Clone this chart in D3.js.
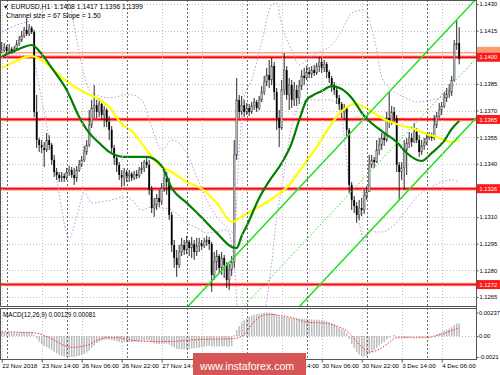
<!DOCTYPE html>
<html>
<head>
<meta charset="utf-8">
<script src="https://cdn.jsdelivr.net/npm/d3@7"></script>
<style>
  body { margin: 0; background: #fff; }
  text { font-family: "Liberation Sans", Arial, sans-serif; }
</style>
</head>
<body>
<div id="chart"></div>
<script>
// ---- data (EURUSD H1, 22 Nov 22:00 .. 4 Dec 13:00) ----
var firstOpen = 1.14030;

var closes = [
  1.14041,1.14058,1.14035,1.14047,1.14030,1.14047,1.14075,1.14097,1.14120,1.14154,
  1.14131,1.14165,1.14142,1.13692,1.13534,1.13506,1.13489,1.13478,1.13534,1.13506,
  1.13422,1.13354,1.13337,1.13320,1.13332,1.13320,1.13354,1.13365,1.13337,1.13320,
  1.13365,1.13394,1.13422,1.13467,1.13506,1.13619,1.13714,1.13731,1.13692,1.13737,
  1.13675,1.13703,1.13636,1.13591,1.13489,1.13433,1.13394,1.13337,1.13320,1.13354,
  1.13332,1.13343,1.13320,1.13343,1.13332,1.13365,1.13377,1.13410,1.13394,1.13253,
  1.13151,1.13168,1.13208,1.13185,1.13264,1.13320,1.13298,1.13112,1.12943,1.12870,
  1.12831,1.12904,1.12943,1.12915,1.12960,1.12926,1.12949,1.12904,1.12938,1.12954,
  1.12938,1.12960,1.12971,1.12949,1.12774,1.12847,1.12881,1.12814,1.12870,1.12831,
  1.12746,1.12802,1.12847,1.13450,1.13760,1.13692,1.13731,1.13692,1.13714,1.13692,
  1.13726,1.13748,1.13714,1.13760,1.13805,1.13861,1.13900,1.13872,1.13951,1.13805,
  1.13658,1.13602,1.13816,1.13928,1.13788,1.13844,1.13760,1.13816,1.13771,1.13838,
  1.13895,1.13883,1.13917,1.13906,1.13928,1.13912,1.13951,1.13973,1.13940,1.13962,
  1.13917,1.13883,1.13844,1.13816,1.13771,1.13737,1.13692,1.13714,1.13591,1.13281,
  1.13197,1.13163,1.13112,1.13151,1.13140,1.13219,1.13242,1.13394,1.13422,1.13410,
  1.13478,1.13506,1.13546,1.13534,1.13658,1.13636,1.13692,1.13658,1.13394,1.13354,
  1.13377,1.13478,1.13517,1.13546,1.13523,1.13579,1.13534,1.13467,1.13501,1.13517,
  1.13546,1.13557,1.13546,1.13619,1.13669,1.13703,1.13726,1.13771,1.13793,1.13805,
  1.13872,1.14069,1.14080,1.13990
];

var highs = [
  1.14086,1.14080,1.14069,1.14075,1.14058,1.14064,1.14097,1.14120,1.14148,1.14171,
  1.14221,1.14187,1.14176,1.14154,1.13788,1.13546,1.13534,1.13523,1.13574,1.13562,
  1.13517,1.13450,1.13377,1.13354,1.13354,1.13348,1.13377,1.13388,1.13382,1.13377,
  1.13388,1.13422,1.13444,1.13501,1.13534,1.13703,1.13760,1.13844,1.13760,1.13771,
  1.13743,1.13726,1.13714,1.13669,1.13613,1.13506,1.13450,1.13410,1.13365,1.13377,
  1.13365,1.13365,1.13354,1.13360,1.13365,1.13382,1.13410,1.13422,1.13439,1.13422,
  1.13275,1.13208,1.13230,1.13253,1.13292,1.13377,1.13354,1.13320,1.13129,1.12971,
  1.12915,1.12943,1.12983,1.12971,1.12994,1.12971,1.12988,1.12971,1.12983,1.12983,
  1.12971,1.12983,1.12994,1.12988,1.12960,1.12904,1.12915,1.12892,1.12904,1.12887,
  1.12847,1.12836,1.12881,1.13534,1.13883,1.13788,1.13782,1.13760,1.13743,1.13737,
  1.13748,1.13771,1.13760,1.13782,1.13838,1.13895,1.13940,1.13985,1.13996,1.13973,
  1.13827,1.13703,1.13872,1.14024,1.13951,1.13883,1.13872,1.13861,1.13844,1.13872,
  1.13928,1.13940,1.13951,1.13945,1.13951,1.13957,1.13968,1.14002,1.13996,1.13985,
  1.13973,1.13928,1.13895,1.13861,1.13827,1.13788,1.13748,1.13737,1.13714,1.13602,
  1.13298,1.13219,1.13185,1.13197,1.13208,1.13253,1.13275,1.13450,1.13450,1.13439,
  1.13534,1.13546,1.13574,1.13579,1.13692,1.13805,1.13726,1.13720,1.13675,1.13410,
  1.13410,1.13534,1.13546,1.13579,1.13574,1.13630,1.13602,1.13562,1.13534,1.13546,
  1.13568,1.13579,1.13574,1.13675,1.13692,1.13743,1.13748,1.13805,1.13827,1.13850,
  1.13895,1.14097,1.14210,1.14170
];

var lows = [
  1.14024,1.14030,1.14013,1.14024,1.14018,1.14024,1.14041,1.14064,1.14086,1.14109,
  1.14120,1.14120,1.14131,1.13664,1.13489,1.13467,1.13461,1.13382,1.13467,1.13478,
  1.13394,1.13326,1.13309,1.13298,1.13298,1.13298,1.13309,1.13332,1.13320,1.13281,
  1.13298,1.13354,1.13382,1.13410,1.13450,1.13495,1.13602,1.13658,1.13658,1.13664,
  1.13647,1.13607,1.13607,1.13534,1.13467,1.13394,1.13354,1.13309,1.13270,1.13275,
  1.13298,1.13298,1.13303,1.13309,1.13315,1.13320,1.13343,1.13354,1.13377,1.13225,
  1.13123,1.13101,1.13140,1.13157,1.13168,1.13242,1.13225,1.13084,1.12904,1.12814,
  1.12763,1.12814,1.12881,1.12887,1.12892,1.12881,1.12870,1.12859,1.12881,1.12904,
  1.12915,1.12926,1.12938,1.12915,1.12679,1.12746,1.12802,1.12780,1.12774,1.12757,
  1.12701,1.12690,1.12769,1.12814,1.13422,1.13658,1.13675,1.13664,1.13675,1.13669,
  1.13681,1.13703,1.13692,1.13703,1.13748,1.13788,1.13838,1.13827,1.13844,1.13760,
  1.13591,1.13495,1.13591,1.13788,1.13760,1.13703,1.13714,1.13726,1.13726,1.13737,
  1.13816,1.13844,1.13872,1.13883,1.13883,1.13895,1.13900,1.13917,1.13912,1.13917,
  1.13883,1.13855,1.13805,1.13788,1.13737,1.13703,1.13658,1.13647,1.13557,1.13236,
  1.13140,1.13123,1.13067,1.13084,1.13106,1.13118,1.13197,1.13242,1.13377,1.13377,
  1.13405,1.13450,1.13478,1.13501,1.13523,1.13602,1.13619,1.13636,1.13354,1.13197,
  1.13309,1.13253,1.13337,1.13489,1.13495,1.13517,1.13517,1.13439,1.13450,1.13478,
  1.13506,1.13534,1.13529,1.13534,1.13602,1.13658,1.13675,1.13714,1.13748,1.13771,
  1.13782,1.13861,1.14041,1.13960
];

// moving averages (green, yellow), sampled at bar numbers
var greenBars = [0,3,7,12,16,20,26,31,35,39,43,49,52,58,64,68,74,79,86,92,94,96,98,103,107,112,116,119,122,124,128,132,136,140,145,147,153,158,162,168,172,177,180,183];
var greenMA = [1.14002,1.14024,1.14047,1.14069,1.14018,1.13940,1.13816,1.13664,1.13574,1.13517,1.13467,1.13439,1.13439,1.13439,1.13388,1.13264,1.13180,1.13112,1.13011,1.12932,1.12926,1.12994,1.13050,1.13208,1.13303,1.13405,1.13517,1.13647,1.13760,1.13782,1.13810,1.13838,1.13821,1.13771,1.13669,1.13641,1.13574,1.13523,1.13461,1.13416,1.13461,1.13529,1.13596,1.13641];

var yellowBars = [0,5,10,12,16,22,27,32,38,43,48,52,58,63,68,74,80,86,92,97,102,108,115,120,126,131,136,142,147,152,158,164,169,174,180,183];
var yellowMA = [1.13940,1.13973,1.14002,1.14007,1.13985,1.13912,1.13855,1.13810,1.13771,1.13720,1.13624,1.13585,1.13478,1.13394,1.13354,1.13298,1.13259,1.13180,1.13073,1.13112,1.13151,1.13202,1.13281,1.13377,1.13495,1.13607,1.13697,1.13737,1.13703,1.13658,1.13624,1.13602,1.13574,1.13551,1.13523,1.13534];

// envelope bands (purple dotted)
var bandBars = [0,6,12,16,22,27,30,33,36,44,49,52,56,60,64,68,74,78,82,86,90,93,95,97,100,104,108,110,112,116,119,123,127,131,135,140,142,145,147,150,152,156,161,166,172,176,180,183];
var bandUpper = [1.14142,1.14182,1.14210,1.14255,1.14289,1.14294,1.14097,1.13900,1.13799,1.13771,1.13788,1.13788,1.13760,1.13607,1.13478,1.13534,1.13461,1.13326,1.13197,1.13101,1.13044,1.13011,1.13478,1.13776,1.13872,1.14086,1.14294,1.14306,1.14182,1.14041,1.13957,1.13996,1.14030,1.14058,1.14125,1.14249,1.14260,1.14266,1.14210,1.14041,1.13889,1.13816,1.13776,1.13748,1.13760,1.13776,1.13833,1.13855];
var bandLower = [1.14002,1.14013,1.14002,1.13760,1.13309,1.12983,1.13101,1.13236,1.13180,1.13197,1.13213,1.13197,1.13140,1.13157,1.13151,1.13140,1.13067,1.13039,1.13011,1.13016,1.13028,1.12842,1.12465,1.12420,1.12420,1.12500,1.12842,1.13101,1.13270,1.13607,1.13731,1.13760,1.13760,1.13760,1.13731,1.13197,1.13140,1.12960,1.13028,1.13016,1.13016,1.13044,1.13123,1.13213,1.13270,1.13298,1.13309,1.13298];

// regression channel: size 67 pips, slope 1.50 pips/bar
var channelBars = [117, 183];
var channelMid = [1.12900, 1.13891];
var channelSize = 0.0067;

// horizontal levels
var levelValues = [1.1400, 1.1365, 1.1326, 1.1272];
var askLine = 1.14025;

// price axis
var priceTicks = [1.1430,1.1415,1.1400,1.1385,1.1370,1.1355,1.1340,1.1325,1.1310,1.1295,1.1280,1.1265];

// time axis
var timeTickBars = [0,16,32,48,64,80,96,112,128,144,160,176];
var timeLabels = ["22 Nov 2018","23 Nov 14:00","26 Nov 06:00","26 Nov 22:00","27 Nov 14:00","28 Nov 06:00",
                  "28 Nov 22:00","29 Nov 14:00","30 Nov 06:00","30 Nov 22:00","3 Dec 14:00","4 Dec 06:00"];
var dayStartBars = [2,26,50,74,98,122,146,170];

// MACD(12,26,9)
var macdHist = [
  0.00040,0.00040,0.00038,0.00038,0.00036,0.00036,0.00036,0.00038,0.00040,0.00042,
  0.00042,0.00044,0.00044,0.00010,-0.00025,-0.00055,-0.00080,-0.00100,-0.00112,-0.00125,
  -0.00140,-0.00160,-0.00175,-0.00188,-0.00198,-0.00205,-0.00208,-0.00210,-0.00210,-0.00210,
  -0.00205,-0.00198,-0.00190,-0.00178,-0.00165,-0.00145,-0.00120,-0.00098,-0.00070,-0.00055,
  -0.00045,-0.00038,-0.00035,-0.00035,-0.00040,-0.00046,-0.00052,-0.00058,-0.00062,-0.00062,
  -0.00062,-0.00060,-0.00060,-0.00058,-0.00056,-0.00053,-0.00050,-0.00046,-0.00044,-0.00050,
  -0.00062,-0.00072,-0.00078,-0.00082,-0.00080,-0.00075,-0.00074,-0.00085,-0.00100,-0.00115,
  -0.00128,-0.00132,-0.00133,-0.00133,-0.00130,-0.00128,-0.00125,-0.00123,-0.00120,-0.00116,
  -0.00112,-0.00107,-0.00102,-0.00098,-0.00102,-0.00104,-0.00103,-0.00104,-0.00102,-0.00102,
  -0.00106,-0.00106,-0.00102,0.00010,0.00060,0.00100,0.00135,0.00160,0.00180,0.00195,
  0.00205,0.00215,0.00220,0.00225,0.00230,0.00234,0.00237,0.00236,0.00235,0.00228,
  0.00215,0.00200,0.00195,0.00198,0.00190,0.00185,0.00180,0.00178,0.00175,0.00175,
  0.00176,0.00175,0.00172,0.00170,0.00168,0.00165,0.00164,0.00163,0.00160,0.00156,
  0.00150,0.00140,0.00128,0.00115,0.00100,0.00085,0.00068,0.00055,0.00030,-0.00030,
  -0.00080,-0.00120,-0.00160,-0.00185,-0.00200,-0.00205,-0.00200,-0.00180,-0.00160,-0.00140,
  -0.00118,-0.00095,-0.00075,-0.00058,-0.00035,-0.00015,0.00005,0.00012,-0.00005,-0.00015,
  -0.00020,-0.00018,-0.00015,-0.00012,-0.00010,-0.00006,-0.00006,-0.00010,-0.00010,-0.00010,
  -0.00008,-0.00006,-0.00004,0.00004,0.00015,0.00028,0.00040,0.00055,0.00065,0.00075,
  0.00088,0.00110,0.00125,0.00129
];
var signalBars = [0,13,19,26,28,34,39,42,46,53,59,66,79,93,97,99,103,107,111,117,122,129,135,139,143,147,151,154,158,162,170,175,183];
var signalLine = [0.00043,0.00033,-0.00016,-0.00103,-0.00113,-0.00093,-0.00035,-0.00016,-0.00016,-0.00045,-0.00054,-0.00054,-0.00035,-0.00025,0.00014,0.00082,0.00189,0.00218,0.00208,0.00179,0.00140,0.00130,0.00091,0.00033,-0.00084,-0.00161,-0.00132,-0.00084,-0.00016,-0.00016,-0.00016,0.00014,0.00082];
var macdTicks = [0.00237, 0, -0.0021];
var macdTickLabels = ["0.00237", "0.00", "-0.0021"];

// ---- layout ----
var svgWidth = 500;
var svgHeight = 375;
var plotRight = 476;
var mainBottom = 306;
var macdTop = 308;
var macdBottom = 359;
var axisFont = "5.8px";

var svg = d3.select("#chart")
  .append("svg")
  .attr("width", svgWidth)
  .attr("height", svgHeight)
  .style("display", "block");

svg.append("rect").attr("width", svgWidth).attr("height", svgHeight).attr("fill", "#fff");

var xScale = d3.scaleLinear().domain([0, closes.length - 1]).range([1.7, 459.2]);
var yScale = d3.scaleLinear().domain([1.1265, 1.1430]).range([297, 4]);
var macdScale = d3.scaleLinear().domain([-0.0021, 0.00237]).range([357, 312.5]);

var defs = svg.append("defs");
defs.append("clipPath").attr("id", "clipMain")
  .append("rect").attr("x", 0).attr("y", 0).attr("width", plotRight).attr("height", mainBottom);
defs.append("clipPath").attr("id", "clipMacd")
  .append("rect").attr("x", 0).attr("y", macdTop).attr("width", plotRight).attr("height", macdBottom - macdTop);

var mainGroup = svg.append("g").attr("clip-path", "url(#clipMain)");
var macdGroup = svg.append("g").attr("clip-path", "url(#clipMacd)");

// grid
mainGroup.selectAll(".hgrid")
  .data(priceTicks)
  .enter()
  .append("line")
  .attr("x1", 0).attr("x2", plotRight)
  .attr("y1", d => Math.round(yScale(d)) + 0.5)
  .attr("y2", d => Math.round(yScale(d)) + 0.5)
  .attr("stroke", "#c4c4c4")
  .attr("stroke-dasharray", "1,2");

svg.selectAll(".vgrid")
  .data(timeTickBars)
  .enter()
  .append("line")
  .attr("x1", d => Math.round(xScale(d)) + 0.5)
  .attr("x2", d => Math.round(xScale(d)) + 0.5)
  .attr("y1", 0).attr("y2", macdBottom)
  .attr("stroke", "#c4c4c4")
  .attr("stroke-dasharray", "1,2");

macdGroup.append("line")
  .attr("x1", 0).attr("x2", plotRight)
  .attr("y1", Math.round(macdScale(0)) + 0.5).attr("y2", Math.round(macdScale(0)) + 0.5)
  .attr("stroke", "#c4c4c4")
  .attr("stroke-dasharray", "1,2");

// day separators
svg.selectAll(".daysep")
  .data(dayStartBars)
  .enter()
  .append("line")
  .attr("x1", d => Math.round(xScale(d)) + 0.5)
  .attr("x2", d => Math.round(xScale(d)) + 0.5)
  .attr("y1", 0).attr("y2", macdBottom)
  .attr("stroke", "#6a6a6a")
  .attr("stroke-dasharray", "2,2");

// horizontal levels
mainGroup.append("line")
  .attr("x1", 0).attr("x2", plotRight)
  .attr("y1", yScale(askLine)).attr("y2", yScale(askLine))
  .attr("stroke", "#ffa585").attr("stroke-width", 1.5);

mainGroup.selectAll(".levelGlow")
  .data(levelValues)
  .enter()
  .append("line")
  .attr("x1", 0).attr("x2", plotRight)
  .attr("y1", d => yScale(d)).attr("y2", d => yScale(d))
  .attr("stroke", "#ff9090").attr("stroke-width", 3.5);

mainGroup.selectAll(".level")
  .data(levelValues)
  .enter()
  .append("line")
  .attr("x1", 0).attr("x2", plotRight)
  .attr("y1", d => yScale(d)).attr("y2", d => yScale(d))
  .attr("stroke", "#ff0000").attr("stroke-width", 1.6);

// envelopes
function sampledLine(bars, values, scale) {
  return d3.line()
    .x((d, i) => xScale(bars[i]))
    .y(d => scale(d))
    .curve(d3.curveMonotoneX)(values);
}

[bandUpper, bandLower].forEach(function(band) {
  mainGroup.append("path")
    .attr("d", sampledLine(bandBars, band, yScale))
    .attr("fill", "none")
    .attr("stroke", "#c890e8")
    .attr("stroke-width", 1)
    .attr("stroke-dasharray", "1.5,2");
});

// candles
var candles = closes.map(function(c, i) {
  return { i: i, o: i ? closes[i - 1] : firstOpen, h: highs[i], l: lows[i], c: c };
});

mainGroup.selectAll(".wick")
  .data(candles)
  .enter()
  .append("line")
  .attr("x1", d => xScale(d.i)).attr("x2", d => xScale(d.i))
  .attr("y1", d => yScale(Math.max(d.h, d.o, d.c)))
  .attr("y2", d => yScale(Math.min(d.l, d.o, d.c)))
  .attr("stroke", "#111")
  .attr("stroke-width", 0.9);

mainGroup.selectAll(".body")
  .data(candles)
  .enter()
  .append("rect")
  .attr("x", d => xScale(d.i) - 0.9)
  .attr("width", 1.8)
  .attr("y", d => yScale(Math.max(d.o, d.c)))
  .attr("height", d => Math.max(0.8, Math.abs(yScale(d.o) - yScale(d.c))))
  .attr("fill", d => d.c >= d.o ? "#b4b4b4" : "#000")
  .attr("stroke", d => d.c >= d.o ? "#404040" : "none")
  .attr("stroke-width", 0.4);

// moving averages
mainGroup.append("path")
  .attr("d", sampledLine(yellowBars, yellowMA, yScale))
  .attr("fill", "none")
  .attr("stroke", "#ffff00")
  .attr("stroke-width", 2.2);

mainGroup.append("path")
  .attr("d", sampledLine(greenBars, greenMA, yScale))
  .attr("fill", "none")
  .attr("stroke", "#008000")
  .attr("stroke-width", 2.2);

// regression channel
var channelScale = d3.scaleLinear().domain(channelBars).range(channelMid);
var channelEnds = [0, 190];
[channelSize / 2, 0, -channelSize / 2].forEach(function(offset) {
  mainGroup.append("line")
    .attr("x1", xScale(channelEnds[0]))
    .attr("x2", xScale(channelEnds[1]))
    .attr("y1", yScale(channelScale(channelEnds[0]) + offset))
    .attr("y2", yScale(channelScale(channelEnds[1]) + offset))
    .attr("stroke", "#22e022")
    .attr("stroke-width", offset === 0 ? 1 : 1.5)
    .attr("stroke-dasharray", offset === 0 ? "1.5,2" : null);
});

// MACD histogram and signal
macdGroup.selectAll(".hist")
  .data(macdHist)
  .enter()
  .append("rect")
  .attr("x", (d, i) => xScale(i) - 0.75)
  .attr("width", 1.5)
  .attr("y", d => Math.min(macdScale(d), macdScale(0)))
  .attr("height", d => Math.abs(macdScale(d) - macdScale(0)))
  .attr("fill", "#bdbdbd");

macdGroup.append("path")
  .attr("d", sampledLine(signalBars, signalLine, macdScale))
  .attr("fill", "none")
  .attr("stroke", "#ff3030")
  .attr("stroke-width", 1)
  .attr("stroke-dasharray", "1.5,1.5");

// panel borders
svg.append("rect")
  .attr("x", 0.5).attr("y", 0.5)
  .attr("width", plotRight).attr("height", mainBottom)
  .attr("fill", "none").attr("stroke", "#555");
svg.append("rect")
  .attr("x", 0.5).attr("y", macdTop + 0.5)
  .attr("width", plotRight).attr("height", macdBottom - macdTop)
  .attr("fill", "none").attr("stroke", "#555");

// price axis
var priceAxis = d3.axisRight(yScale)
  .tickValues(priceTicks)
  .tickSize(2)
  .tickPadding(1)
  .tickFormat(d => levelValues.some(l => Math.abs(yScale(l) - yScale(d)) < 7) ? "" : d.toFixed(4));

var priceAxisGroup = svg.append("g")
  .attr("transform", `translate(${plotRight + 0.5}, 0)`)
  .call(priceAxis);
priceAxisGroup.select(".domain").remove();
priceAxisGroup.selectAll("text").attr("font-size", axisFont).attr("fill", "#000")
  .attr("font-family", "Liberation Sans, Arial, sans-serif");
priceAxisGroup.selectAll("line").attr("stroke", "#555");

// level tags on the price axis
svg.append("rect")
  .attr("x", plotRight + 1).attr("y", yScale(askLine) - 6)
  .attr("width", svgWidth - plotRight - 1).attr("height", 9)
  .attr("fill", "#ff9a70");

svg.selectAll(".levelTag")
  .data(levelValues)
  .enter()
  .append("rect")
  .attr("x", plotRight + 1)
  .attr("y", d => yScale(d) - 4.5)
  .attr("width", svgWidth - plotRight - 1)
  .attr("height", 9)
  .attr("fill", "#ff1a1a");

svg.selectAll(".levelText")
  .data(levelValues)
  .enter()
  .append("text")
  .attr("x", plotRight + 3.5)
  .attr("y", d => yScale(d) + 2.2)
  .attr("font-size", axisFont)
  .attr("fill", "#fff")
  .text(d => d.toFixed(4));

// macd axis
var macdAxis = d3.axisRight(macdScale)
  .tickValues(macdTicks)
  .tickSize(2)
  .tickPadding(0.5)
  .tickFormat((d, i) => macdTickLabels[i]);

var macdAxisGroup = svg.append("g")
  .attr("transform", `translate(${plotRight + 0.5}, 0)`)
  .call(macdAxis);
macdAxisGroup.select(".domain").remove();
macdAxisGroup.selectAll("text").attr("font-size", axisFont).attr("fill", "#000")
  .attr("font-family", "Liberation Sans, Arial, sans-serif");
macdAxisGroup.selectAll("line").attr("stroke", "#555");

svg.append("line")
  .attr("x1", plotRight + 0.5).attr("x2", plotRight + 0.5)
  .attr("y1", 0).attr("y2", macdBottom + 0.5)
  .attr("stroke", "#555");

// time axis
var timeAxis = d3.axisBottom(xScale)
  .tickValues(timeTickBars)
  .tickSize(3)
  .tickPadding(1.5)
  .tickFormat((d, i) => timeLabels[i]);

var timeAxisGroup = svg.append("g")
  .attr("transform", `translate(0, ${macdBottom + 0.5})`)
  .call(timeAxis);
timeAxisGroup.select(".domain").remove();
timeAxisGroup.selectAll("line").attr("stroke", "#555");
timeAxisGroup.selectAll("text")
  .attr("font-size", "6.2px")
  .attr("fill", "#000")
  .attr("text-anchor", "start")
  .attr("font-family", "Liberation Sans, Arial, sans-serif");

// headers
svg.append("text").attr("x", 3).attr("y", 9).attr("font-size", "5.5px").text("\u25BC");
svg.append("text")
  .attr("x", 11).attr("y", 9)
  .attr("font-size", "6.8px")
  .attr("fill", "#000")
  .attr("xml:space", "preserve")
  .text("EURUSD,H1  1.1408 1.1417 1.1396 1.1399");
svg.append("text")
  .attr("x", 6).attr("y", 18)
  .attr("font-size", "6.8px")
  .attr("fill", "#000")
  .text("Channel size = 67 Slope = 1.50");
svg.append("text")
  .attr("x", 3).attr("y", 317)
  .attr("font-size", "6.3px")
  .attr("fill", "#000")
  .text("MACD(12,26,9) 0.00129 0.00081");

// watermark
svg.append("rect")
  .attr("x", 193).attr("y", 353)
  .attr("width", 113).attr("height", 22)
  .attr("fill", "rgb(214,86,86)");
svg.append("text")
  .attr("x", 200).attr("y", 369.5)
  .attr("font-size", "10.6px")
  .attr("fill", "#fff")
  .text("www.instaforex.com");
</script>
</body>
</html>
